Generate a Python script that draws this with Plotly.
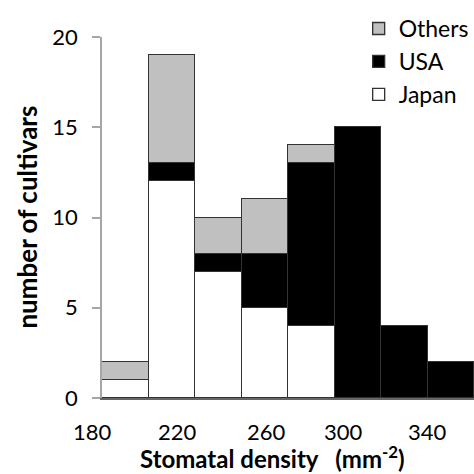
import plotly.graph_objects as go

# ---- data ----
bin_starts = [180, 200, 220, 240, 260, 280, 300, 320]
japan  = [1, 12, 7, 5, 4, 0, 0, 0]
usa    = [0, 1, 1, 3, 9, 15, 4, 2]
others = [1, 6, 2, 3, 1, 0, 0, 0]
bin_width = 20

x_tick_labels = ["180", "220", "260", "300", "340"]
x_tick_pos = [176.1, 212.3, 250.6, 283.7, 319.8]  # where the labels sit under the axis
y_ticks = [0, 5, 10, 15, 20]

X_RANGE = [180, 340]
FONT = "Lato"
edge = dict(color="#333333", width=1.3)

fig = go.Figure()
fig.add_trace(go.Bar(x=bin_starts, y=japan, width=bin_width, offset=0, name="Japan",
                     marker=dict(color="white", line=edge)))
fig.add_trace(go.Bar(x=bin_starts, y=usa, width=bin_width, offset=0, name="USA",
                     marker=dict(color="black", line=edge)))
fig.add_trace(go.Bar(x=bin_starts, y=others, width=bin_width, offset=0, name="Others",
                     marker=dict(color="#c0c0c0", line=edge)))


def to_paper(v):
    return (v - X_RANGE[0]) / (X_RANGE[1] - X_RANGE[0])


annotations = []
for lab, pos in zip(x_tick_labels, x_tick_pos):
    annotations.append(dict(x=to_paper(pos), y=0, xref="paper", yref="paper", text=lab,
                            showarrow=False, yshift=-33, yanchor="middle", xanchor="center",
                            font=dict(family=FONT, size=22, color="black")))
annotations.append(dict(x=(272 - 102) / 372, y=0, xref="paper", yref="paper",
                        text="<b>Stomatal density&nbsp;&nbsp;&nbsp;(mm<sup>-2</sup>)</b>",
                        showarrow=False, yshift=-59, yanchor="middle", xanchor="center",
                        font=dict(family=FONT, size=24, color="black")))
annotations.append(dict(x=-0.204, y=0.5, xref="paper", yref="paper",
                        text="<b>number of cultivars</b>", showarrow=False, textangle=-90,
                        xanchor="center", yanchor="middle",
                        font=dict(family=FONT, size=26, color="black")))

fig.update_layout(
    width=474, height=474, autosize=False,
    margin=dict(l=102, r=0, t=37, b=76, pad=0),
    paper_bgcolor="white", plot_bgcolor="white",
    barmode="stack", bargap=0,
    showlegend=True,
    legend=dict(x=0.69, y=1.083, xanchor="left", yanchor="top", traceorder="reversed",
                font=dict(family=FONT, size=23, color="black"), bgcolor="rgba(0,0,0,0)",
                itemwidth=30, tracegroupgap=0, borderwidth=0),
    xaxis=dict(range=X_RANGE, showticklabels=False, ticks="", showgrid=False,
               zeroline=False, showline=True, linecolor="#666666", linewidth=1.5,
               fixedrange=True),
    yaxis=dict(range=[0, 20], tickvals=y_ticks, showgrid=False, zeroline=False,
               showline=True, linecolor="#a6a6a6", linewidth=1.5, ticks="outside",
               ticklen=8, tickcolor="#a6a6a6", tickwidth=1.5, ticklabelstandoff=10,
               tickfont=dict(family=FONT, size=22, color="black"), fixedrange=True),
    annotations=annotations,
    font=dict(family=FONT, color="black"),
)

fig.write_html("out.html", config={"displayModeBar": False},
               post_script="document.body.style.margin='0';")
